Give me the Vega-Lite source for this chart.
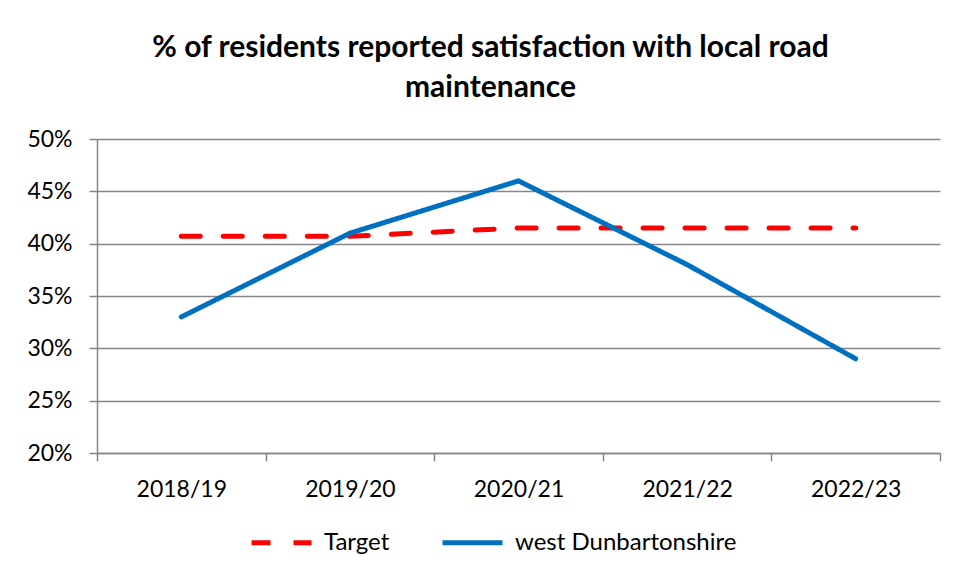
{
  "$schema": "https://vega.github.io/schema/vega-lite/v6.json",
  "width": 843,
  "height": 314,
  "autosize": {"type": "none"},
  "padding": {"left": 97, "top": 139, "right": 16, "bottom": 126},
  "background": "white",
  "title": {
    "text": ["% of residents reported satisfaction with local road", "maintenance"],
    "font": "Lato",
    "fontSize": 30,
    "fontWeight": "bold",
    "color": "#000000",
    "anchor": "middle",
    "dx": -28,
    "offset": 25,
    "lineHeight": 40
  },
  "config": {
    "view": {"stroke": null},
    "axis": {"labelFont": "Lato", "labelFontSize": 23, "labelColor": "#000000"}
  },
  "data": {
    "values": [
      {"year": "2018/19", "series": "Target", "value": 0.407},
      {"year": "2019/20", "series": "Target", "value": 0.407},
      {"year": "2020/21", "series": "Target", "value": 0.415},
      {"year": "2021/22", "series": "Target", "value": 0.415},
      {"year": "2022/23", "series": "Target", "value": 0.415},
      {"year": "2018/19", "series": "west Dunbartonshire", "value": 0.33},
      {"year": "2019/20", "series": "west Dunbartonshire", "value": 0.41},
      {"year": "2020/21", "series": "west Dunbartonshire", "value": 0.46},
      {"year": "2021/22", "series": "west Dunbartonshire", "value": 0.38},
      {"year": "2022/23", "series": "west Dunbartonshire", "value": 0.29}
    ]
  },
  "mark": {"type": "line", "strokeWidth": 5, "strokeCap": "round", "strokeJoin": "round"},
  "encoding": {
    "x": {
      "field": "year",
      "type": "nominal",
      "sort": null,
      "title": null,
      "scale": {"type": "band", "paddingInner": 0, "paddingOuter": 0},
      "axis": {
        "labelAngle": 0,
        "tickBand": "extent",
        "grid": false,
        "domainColor": "#868686",
        "domainWidth": 1.5,
        "tickColor": "#868686",
        "tickWidth": 1.5,
        "tickSize": 8,
        "labelPadding": 17
      }
    },
    "y": {
      "field": "value",
      "type": "quantitative",
      "title": null,
      "scale": {"domain": [0.2, 0.5], "nice": false, "zero": false},
      "axis": {
        "values": [0.2, 0.25, 0.3, 0.35, 0.4, 0.45, 0.5],
        "format": ".0%",
        "grid": true,
        "gridColor": "#868686",
        "gridWidth": 1.5,
        "domainColor": "#868686",
        "domainWidth": 1.5,
        "tickColor": "#868686",
        "tickWidth": 1.5,
        "tickSize": 8,
        "labelPadding": 17
      }
    },
    "color": {
      "field": "series",
      "type": "nominal",
      "scale": {"domain": ["Target", "west Dunbartonshire"], "range": ["#FF0000", "#0070C0"]},
      "legend": {
        "title": null,
        "orient": "none",
        "direction": "horizontal",
        "legendX": 152,
        "legendY": 371,
        "symbolType": "stroke",
        "symbolSize": 3600,
        "symbolStrokeWidth": 5,
        "labelFont": "Lato",
        "labelFontSize": 24,
        "labelLimit": 400,
        "labelColor": "#000000",
        "labelOffset": 10,
        "columnPadding": 42
      }
    },
    "strokeDash": {
      "field": "series",
      "type": "nominal",
      "scale": {"domain": ["Target", "west Dunbartonshire"], "range": [[19, 23], [1, 0]]},
      "legend": null
    }
  }
}
